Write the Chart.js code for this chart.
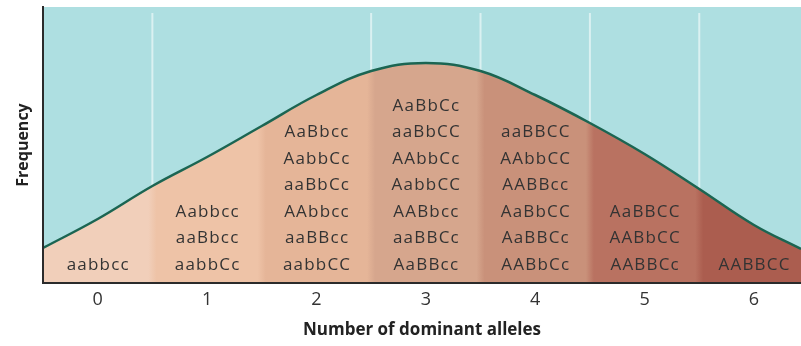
<!DOCTYPE html>
<html>
<head>
<meta charset="utf-8">
<script src="https://cdn.jsdelivr.net/npm/chart.js@4"></script>
<style>
  body { margin: 0; background: #fff; }
</style>
</head>
<body>
<canvas id="alleleChart" width="801" height="346"></canvas>
<script>
const xLabels = ["0", "1", "2", "3", "4", "5", "6"];

// bell curve (x = number of dominant alleles)
const curveX = [-0.5, 0, 0.5, 1, 1.5, 2, 2.5, 3, 3.5, 4, 4.5, 5, 5.5, 6, 6.43];
const curveY = [35, 64, 97, 126, 157, 188, 212, 220, 212, 188, 160, 129, 94, 58, 34];

// genotypes per column, top row first
const genotypes = [
  ["aabbcc"],
  ["Aabbcc", "aaBbcc", "aabbCc"],
  ["AaBbcc", "AabbCc", "aaBbCc", "AAbbcc", "aaBBcc", "aabbCC"],
  ["AaBbCc", "aaBbCC", "AAbbCc", "AabbCC", "AABbcc", "aaBBCc", "AaBBcc"],
  ["aaBBCC", "AAbbCC", "AABBcc", "AaBbCC", "AaBBCc", "AABbCc"],
  ["AaBBCC", "AABbCC", "AABBCc"],
  ["AABBCC"]
];

const skinColors = ["#f1cfba", "#eec3a7", "#e5b598", "#d6a68d", "#c9917a", "#b97261", "#ab5d4f"];

function skinGradient(context) {
  const chart = context.chart;
  const { ctx, chartArea, scales } = chart;
  if (!chartArea) return null;
  const x0 = scales.x.getPixelForValue(-0.5);
  const x1 = scales.x.getPixelForValue(6.5);
  const g = ctx.createLinearGradient(x0, 0, x1, 0);
  const w = x1 - x0;
  const blur = 4 / w;
  skinColors.forEach((c, i) => {
    const a = (scales.x.getPixelForValue(i - 0.5) - x0) / w;
    const b = (scales.x.getPixelForValue(i + 0.5) - x0) / w;
    g.addColorStop(Math.max(0, a + blur), c);
    g.addColorStop(Math.min(1, b - blur), c);
  });
  return g;
}

const backdrop = {
  id: "backdrop",
  beforeDraw(chart) {
    const { ctx, chartArea: a, scales } = chart;
    ctx.save();
    ctx.fillStyle = "#aedfe1";
    ctx.fillRect(a.left, a.top, a.right - a.left, a.bottom - a.top);
    ctx.strokeStyle = "rgba(255,255,255,0.55)";
    ctx.lineWidth = 2;
    [0.5, 2.5, 3.5, 4.5, 5.5].forEach(v => {
      const x = scales.x.getPixelForValue(v);
      ctx.beginPath();
      ctx.moveTo(x, a.top + 6);
      ctx.lineTo(x, a.bottom);
      ctx.stroke();
    });
    ctx.restore();
  }
};

const genotypeText = {
  id: "genotypeText",
  afterDatasetsDraw(chart) {
    const { ctx, chartArea: a, scales } = chart;
    ctx.save();
    ctx.font = "17px 'Open Sans'";
    ctx.letterSpacing = "1.2px";
    ctx.fillStyle = "#333333";
    ctx.textAlign = "center";
    ctx.textBaseline = "middle";
    genotypes.forEach((col, i) => {
      const x = scales.x.getPixelForValue(i) + 0.6;
      const n = col.length;
      col.forEach((g, j) => {
        const y = a.bottom - 18 - (n - 1 - j) * 26.5;
        ctx.fillText(g, x, y);
      });
    });
    ctx.restore();
  }
};

new Chart(document.getElementById("alleleChart"), {
  type: "line",
  data: {
    datasets: [{
      data: curveX.map((x, i) => ({ x, y: curveY[i] })),
      borderColor: "#1b6552",
      borderWidth: 2.5,
      backgroundColor: skinGradient,
      fill: "origin",
      tension: 0.4,
      pointRadius: 0
    }]
  },
  options: {
    responsive: false,
    animation: false,
    layout: { padding: { top: 7, right: 0, left: 0, bottom: 0 } },
    plugins: { legend: { display: false }, tooltip: { enabled: false } },
    scales: {
      x: {
        type: "linear",
        min: -0.5,
        max: 6.43,
        afterBuildTicks: axis => { axis.ticks = xLabels.map((l, i) => ({ value: i })); },
        afterFit: axis => { axis.height = 63; },
        grid: { display: false, drawTicks: false },
        border: { display: true, color: "#2b2b2b", width: 2, z: 1 },
        ticks: {
          callback: v => xLabels[v],
          color: "#333",
          font: { family: "'Open Sans'", size: 18 },
          padding: 6,
          maxRotation: 0,
          autoSkip: false
        },
        title: {
          display: true,
          text: "Number of dominant alleles",
          color: "#222",
          font: { family: "'Open Sans'", size: 17, weight: "bold" },
          padding: { top: 0, bottom: 6 }
        }
      },
      y: {
        min: 0,
        max: 276,
        afterFit: axis => { axis.width = 43; },
        grid: { display: false, drawTicks: false },
        border: { display: true, color: "#2b2b2b", width: 2, z: 1 },
        ticks: { display: false },
        title: {
          display: true,
          text: "Frequency",
          color: "#222",
          font: { family: "'Open Sans'", size: 16, weight: "bold" },
          padding: { top: 14, bottom: 0 }
        }
      }
    }
  },
  plugins: [backdrop, genotypeText]
});
</script>
</body>
</html>
